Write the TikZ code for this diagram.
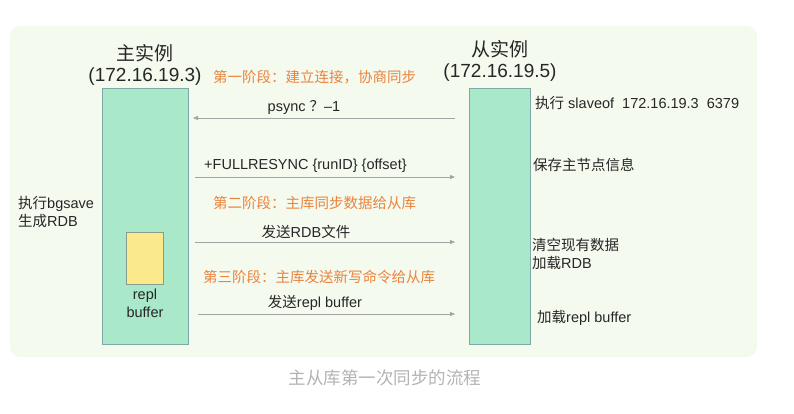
\documentclass[tikz,border=0pt]{standalone}
\usepackage{fontspec}
\setmainfont{Liberation Sans}
\newfontfamily\zhfont{Noto Sans CJK SC}
\newcommand{\zh}[1]{{\zhfont #1}}
\usetikzlibrary{arrows.meta}
\definecolor{panelbg}{HTML}{F5FAEF}
\definecolor{boxfill}{HTML}{A9E8C8}
\definecolor{boxline}{HTML}{80A8A8}
\definecolor{buffill}{HTML}{FBE98E}
\definecolor{bufline}{HTML}{8C9C8C}
\definecolor{stagetext}{HTML}{E9843E}
\definecolor{msgline}{HTML}{A3A3A3}
\definecolor{captext}{HTML}{B3B3B3}
\tikzset{
  inst/.style={draw=boxline,fill=boxfill,line width=0.9pt,inner sep=0pt},
  msg/.style={draw=msgline,line width=0.8pt,-{Triangle[length=5pt,width=4pt]}},
  lbl/.style={font=\fontsize{14.5}{18}\selectfont,inner sep=0pt,text=black!85},
  stage/.style={lbl,text=stagetext},
  title/.style={font=\fontsize{19}{22}\selectfont,inner sep=0pt,text=black!85}
}
\begin{document}
\begin{tikzpicture}[x=1pt,y=-1pt]
	\useasboundingbox (0,0) rectangle (794,414);
	\fill[panelbg,rounded corners=10pt] (10,26) rectangle (757,357);
	% instances
	\node[inst,minimum width=86pt,minimum height=256pt] (master) at (145,216) {};
	\node[inst,minimum width=61pt,minimum height=256pt] (slave) at (500,216) {};
	\node[draw=bufline,fill=buffill,line width=0.8pt,minimum width=37pt,minimum height=52pt,inner sep=0pt] (buf) at (144.5,258) {};
	\node[title] (mtitle) at (145,53) {\zh{主实例}};
	\node[title] (mip) at (145,77) {(172.16.19.3)};
	\node[title] (stitle) at (500,49) {\zh{从实例}};
	\node[title] (sip) at (500,73) {(172.16.19.5)};
	% stages
	\node[stage,anchor=west] (stage1) at (213,77) {\zh{第一阶段：建立连接，协商同步}};
	\node[stage,anchor=west] (stage2) at (213,203) {\zh{第二阶段：主库同步数据给从库}};
	\node[stage,anchor=west] (stage3) at (203,277) {\zh{第三阶段：主库发送新写命令给从库}};
	% messages
	\coordinate (psyncS) at (455,118);
	\coordinate (psyncE) at (193,118);
	\coordinate (fullS) at (195,177);
	\coordinate (fullE) at (455,177);
	\coordinate (rdbS) at (195,242);
	\coordinate (rdbE) at (455,242);
	\coordinate (replS) at (198,314);
	\coordinate (replE) at (455,314);
	\draw[msg] (psyncS) -- (psyncE);
	\draw[msg] (fullS) -- (fullE);
	\draw[msg] (rdbS) -- (rdbE);
	\draw[msg] (replS) -- (replE);
	\node[lbl] (psync) at (304,107) {psync\ \zh{？}--1};
	\node[lbl,anchor=west] (full) at (204,166) {+FULLRESYNC \{runID\} \{offset\}};
	\node[lbl] (sendrdb) at (306,232) {\zh{发送}RDB\zh{文件}};
	\node[lbl] (sendrepl) at (315,303) {\zh{发送}repl buffer};
	% side notes
	\node[lbl,anchor=west,align=left] (bgsave) at (18,212) {\zh{执行}bgsave\\\zh{生成}RDB};
	\node[lbl,align=center] (repl) at (145,303) {repl\\buffer};
	\node[lbl,anchor=west] (slaveof) at (535,103) {\zh{执行} slaveof\ \ 172.16.19.3\ \ 6379};
	\node[lbl,anchor=west] (save) at (533,165) {\zh{保存主节点信息}};
	\node[lbl,anchor=west,align=left] (load) at (532,254) {\zh{清空现有数据}\\\zh{加载}RDB};
	\node[lbl,anchor=west] (loadrepl) at (537,318) {\zh{加载}repl buffer};
	% caption
	\node[font=\fontsize{17.5}{20}\selectfont,text=captext] (caption) at (385,378) {\zh{主从库第一次同步的流程}};
\end{tikzpicture}
\end{document}
